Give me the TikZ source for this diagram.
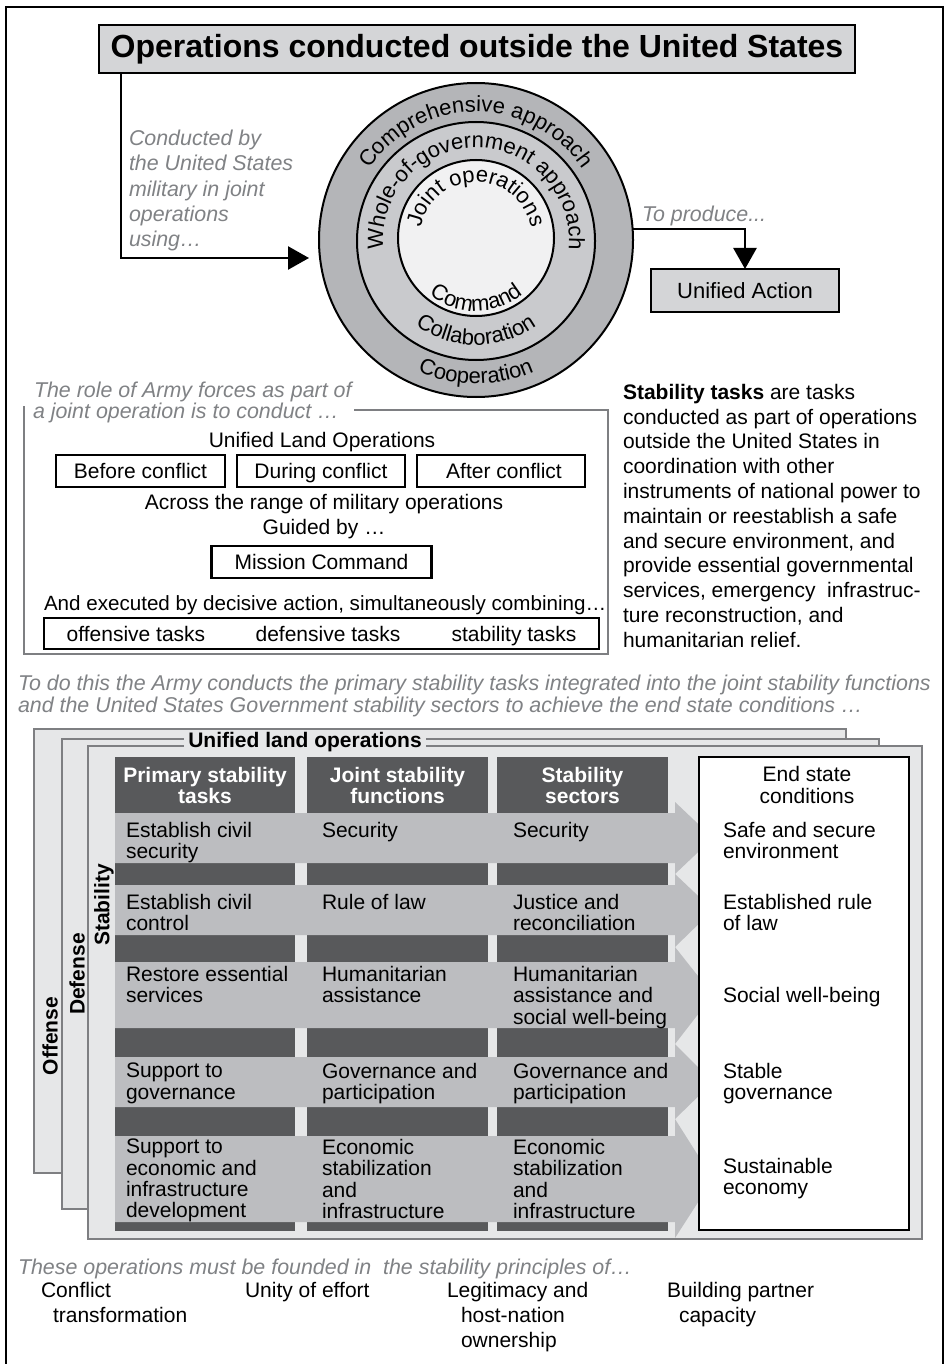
\documentclass[tikz,border=0pt]{standalone}
\usepackage{fontspec}
\setmainfont{Liberation Sans}
\usetikzlibrary{arrows.meta,decorations.text}
\definecolor{titlefill}{HTML}{D4D5D7}
\definecolor{ringout}{HTML}{B4B5B8}
\definecolor{ringmid}{HTML}{C9CACD}
\definecolor{ringin}{HTML}{F1F1F2}
\definecolor{itgray}{HTML}{808285}
\definecolor{linegray}{HTML}{7E7F82}
\definecolor{panelfill}{HTML}{E6E7E8}
\definecolor{darkcol}{HTML}{58595B}
\definecolor{lightrow}{HTML}{BCBDC0}
\newcommand{\ringfont}{\fontsize{22}{22}\selectfont}
\begin{document}
\begin{tikzpicture}[x=1pt,y=1pt,
  every node/.style={inner sep=0pt,outer sep=0pt},
  txt/.style={font=\fontsize{21}{21.5}\selectfont},
  itxt/.style={font=\fontsize{21.4}{25.25}\selectfont\itshape, text=itgray},
  hdr/.style={font=\fontsize{21}{21}\selectfont\bfseries, text=white, align=center},
  bold/.style={font=\fontsize{21}{21}\selectfont\bfseries},
  cell/.style={font=\fontsize{21}{21.4}\selectfont, align=left, anchor=north west},
  cellbox/.style={draw=black, line width=2.5pt, minimum height=32pt, text height=15pt, text depth=0pt, font=\fontsize{21}{21}\selectfont},
  boxtxt/.style={font=\fontsize{21}{21}\selectfont, text height=15pt, text depth=0pt},
  panel/.style={draw=linegray, fill=panelfill, line width=2pt},
  conn/.style={line width=2.5pt, -{Triangle[length=21pt,width=23pt]}},
  ringtxt/.style={decorate, decoration={text along path, text align=center, text={#1}}}
]
\useasboundingbox (0,0) rectangle (949,-1364);
\fill[white] (0,0) rectangle (949,-1364);
\draw[line width=2.5pt] (6,-7) rectangle (943,-1372);

% title
\node[draw, line width=2.5pt, fill=titlefill, minimum width=756pt, minimum height=48pt,
  font=\fontsize{32}{32}\selectfont\bfseries] (title) at (477,-49) {Operations conducted outside the United States};

% circles
\node[circle, draw, line width=2pt, fill=ringout, minimum size=314pt] (outer) at (476,-240) {};
\node[circle, draw, line width=2pt, fill=ringmid, minimum size=238pt] (mid) at (476,-241) {};
\node[circle, draw, line width=2pt, fill=ringin, minimum size=156pt] (inner) at (476,-238) {};

\begin{scope}[shift={(476,-240)}]
  \path[ringtxt={|\ringfont|Comprehensive approach}] (175:128) arc[start angle=175, end angle=5, radius=128];
  \path[ringtxt={|\ringfont|Cooperation}] (210:144) arc[start angle=210, end angle=330, radius=144];
\end{scope}
\begin{scope}[shift={(476,-241)}]
  \path[ringtxt={|\ringfont|Whole-of-government approach}] (200:93) arc[start angle=200, end angle=-20, radius=93];
  \path[ringtxt={|\ringfont|Collaboration}] (200:104) arc[start angle=200, end angle=340, radius=104];
\end{scope}
\begin{scope}[shift={(476,-238)}]
  \path[ringtxt={|\ringfont|Joint operations}] (200:56) arc[start angle=200, end angle=-20, radius=56];
  \path[ringtxt={|\ringfont|Command}] (200:73) arc[start angle=200, end angle=340, radius=73];
\end{scope}

% connectors
\coordinate (arrL) at (309,-258);
\draw[conn] ([xshift=22pt]title.south west) |- (arrL);
\node[draw, line width=2.5pt, fill=titlefill, minimum width=188pt, minimum height=43pt,
  font=\fontsize{22}{22}\selectfont] (ua) at (745,-290.5) {Unified Action};
\draw[conn] (outer.4) -| (ua.north);

\node[itxt, anchor=north west, align=left] (cond) at (129,-130) {Conducted by\\the United States\\military in joint\\operations\\using…};
\node[itxt, anchor=base west] (prod) at (642,-222) {To produce...};

% middle box
\draw[line width=2pt, draw=linegray] (354,-410) -- (608,-410) -- (608,-654) -- (24,-654) -- (24,-406);
\node[itxt, anchor=base west] (role1) at (34,-397) {The role of Army forces as part of};
\node[itxt, anchor=base west] (role2) at (33,-418) {a joint operation is to conduct …};
\node[txt, anchor=base] (ulo) at (322,-447) {Unified Land Operations};
\node[cellbox, minimum width=169pt] (before) at (140.5,-471) {Before conflict};
\node[cellbox, minimum width=168pt] (during) at (321,-471) {During conflict};
\node[cellbox, minimum width=168pt] (after) at (501,-471) {\hspace*{6pt}After conflict};
\node[txt, anchor=base] (across) at (324,-509) {Across the range of military operations};
\node[txt, anchor=base] (guided) at (324,-534) {Guided by …};
\node[cellbox, minimum width=220pt] (mc) at (321.5,-562) {Mission Command};
\node[txt, anchor=base west, font=\fontsize{20.6}{21}\selectfont] (exec) at (44,-610) {And executed by decisive action, simultaneously combining…};
\node[cellbox, minimum width=555pt, minimum height=31pt] (tasks) at (321.5,-633.5) {};
\node[boxtxt] (off) at (136,-633.5) {offensive tasks};
\node[boxtxt] (def) at (328,-633.5) {defensive tasks};
\node[boxtxt] (stab) at (514,-633.5) {stability tasks};

% right paragraph
\node[anchor=north west, align=left, font=\fontsize{21}{24.8}\selectfont] (para) at (623,-384)
 {\textbf{Stability tasks} are tasks\\conducted as part of operations\\outside the United States in\\coordination with other\\instruments of national power to\\maintain or reestablish a safe\\and secure environment, and\\provide essential governmental\\services, emergency\ \ infrastruc-\\ture reconstruction, and\\humanitarian relief.};

% to do this
\node[itxt, anchor=base west] (todo1) at (18,-690) {To do this the Army conducts the primary stability tasks integrated into the joint stability functions};
\node[itxt, anchor=base west] (todo2) at (18,-712) {and the United States Government stability sectors to achieve the end state conditions …};

% panels
\draw[panel] (34,-729) rectangle (846,-1173);
\draw[panel] (62,-739) rectangle (879,-1209);
\draw[panel] (88,-746) rectangle (922,-1239);
\node[bold, fill=panelfill, inner xsep=4pt, inner ysep=1pt] (ulolab) at (305,-742) {Unified land operations};
\node[bold, rotate=90] (offl) at (50,-1036) {Offense};
\node[bold, rotate=90] (defl) at (77,-974) {Defense};
\node[bold, rotate=90] (stbl) at (104,-905) {Stability};

% dark columns
\fill[darkcol] (115,-757) rectangle (295,-1231);
\fill[darkcol] (307,-757) rectangle (488,-1231);
\fill[darkcol] (497,-757) rectangle (668,-1231);

% row arrows
\fill[lightrow] (115,-813) -- (675,-813) -- (675,-802) -- (713,-838) -- (675,-874) -- (675,-863) -- (115,-863) -- cycle;
\fill[lightrow] (115,-885) -- (675,-885) -- (675,-874) -- (713,-910) -- (675,-947) -- (675,-935) -- (115,-935) -- cycle;
\fill[lightrow] (115,-962) -- (675,-962) -- (675,-947) -- (713,-995) -- (675,-1044) -- (675,-1028) -- (115,-1028) -- cycle;
\fill[lightrow] (115,-1057) -- (675,-1057) -- (675,-1044) -- (713,-1082) -- (675,-1119) -- (675,-1107) -- (115,-1107) -- cycle;
\fill[lightrow] (115,-1136) -- (675,-1136) -- (675,-1119) -- (713,-1179) -- (675,-1238) -- (675,-1222) -- (115,-1222) -- cycle;

% headers
\node[hdr] (h1) at (205,-785) {Primary stability\\tasks};
\node[hdr] (h2) at (397.5,-785) {Joint stability\\functions};
\node[hdr] (h3) at (582.5,-785) {Stability\\sectors};

% row texts
\node[cell] (r1a) at (126,-822) {Establish civil\\security};
\node[cell] (r1b) at (322,-822) {Security};
\node[cell] (r1c) at (513,-822) {Security};
\node[cell] (r2a) at (126,-894) {Establish civil\\control};
\node[cell] (r2b) at (322,-894) {Rule of law};
\node[cell] (r2c) at (513,-894) {Justice and\\reconciliation};
\node[cell] (r3a) at (126,-966) {Restore essential\\services};
\node[cell] (r3b) at (322,-966) {Humanitarian\\assistance};
\node[cell] (r3c) at (513,-966) {Humanitarian\\assistance and\\social well-being};
\node[cell] (r4a) at (126,-1063) {Support to\\governance};
\node[cell] (r4b) at (322,-1063) {Governance and\\participation};
\node[cell] (r4c) at (513,-1063) {Governance and\\participation};
\node[cell] (r5a) at (126,-1139) {Support to\\economic and\\infrastructure\\development};
\node[cell] (r5b) at (322,-1139) {Economic\\stabilization\\and\\infrastructure};
\node[cell] (r5c) at (513,-1139) {Economic\\stabilization\\and\\infrastructure};

% end state
\node[draw, fill=white, line width=2.5pt, minimum width=210pt, minimum height=473pt] (es) at (804,-993.5) {};
\node[txt, align=center] (esh) at (807,-785) {End state\\conditions};
\node[cell] (e1) at (723,-822) {Safe and secure\\environment};
\node[cell] (e2) at (723,-894) {Established rule\\of law};
\node[cell] (e3) at (723,-987) {Social well-being};
\node[cell] (e4) at (723,-1063) {Stable\\governance};
\node[cell] (e5) at (723,-1158) {Sustainable\\economy};

% bottom
\node[itxt, anchor=base west] (found) at (18,-1274) {These operations must be founded in\ \ the stability principles of…};
\node[txt, anchor=base west] (p1a) at (41,-1297) {Conflict};
\node[txt, anchor=base west] (p1b) at (53,-1322) {transformation};
\node[txt, anchor=base west] (p2) at (245,-1297) {Unity of effort};
\node[txt, anchor=base west] (p3a) at (447,-1297) {Legitimacy and};
\node[txt, anchor=base west] (p3b) at (461,-1322) {host-nation};
\node[txt, anchor=base west] (p3c) at (461,-1347) {ownership};
\node[txt, anchor=base west] (p4a) at (667,-1297) {Building partner};
\node[txt, anchor=base west] (p4b) at (679,-1322) {capacity};
\end{tikzpicture}
\end{document}
